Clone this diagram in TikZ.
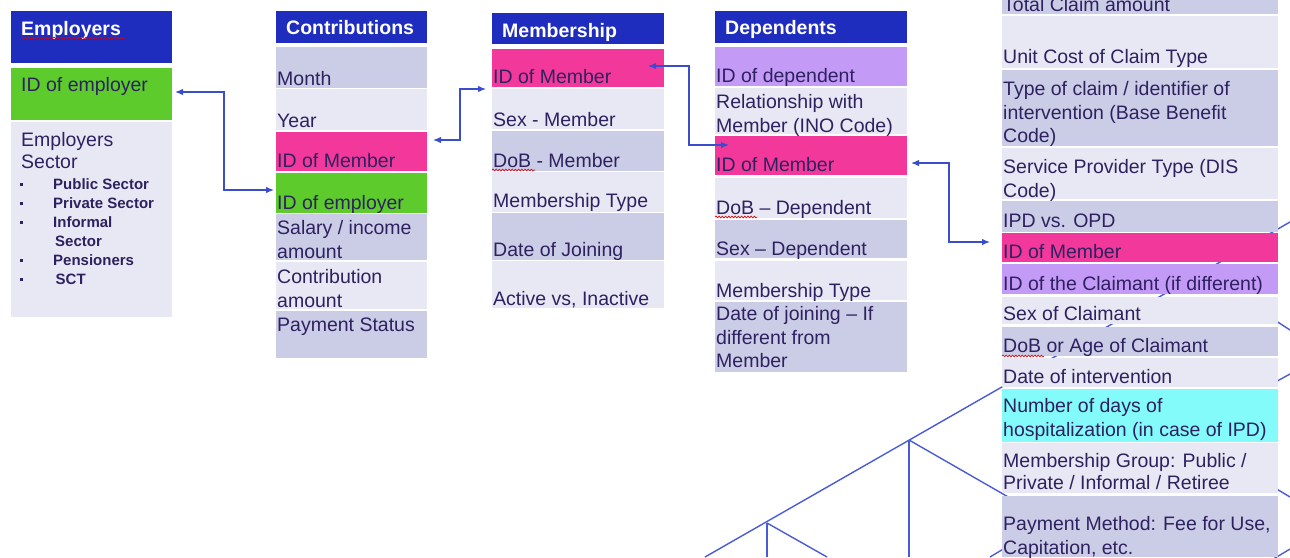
\documentclass[tikz,border=0pt]{standalone}
\usepackage{fontspec}
\setmainfont{Liberation Sans}
\usetikzlibrary{arrows.meta,decorations.pathmorphing}

\definecolor{hdr}{HTML}{1F2DBF}
\definecolor{band}{HTML}{CBCDE7}
\definecolor{plain}{HTML}{E8E8F4}
\definecolor{keypink}{HTML}{F2399B}
\definecolor{keygreen}{HTML}{5DCB2B}
\definecolor{keyviolet}{HTML}{C49AF7}
\definecolor{keycyan}{HTML}{82FBFA}
\definecolor{ink}{HTML}{2E2160}
\definecolor{wire}{HTML}{3A4DCD}
\definecolor{truss}{HTML}{4A5BD6}

\newcommand\rowfont{\fontsize{19.5}{23.5}\selectfont}
\newcommand\tabx{0}
\newcommand\tabw{100}
\newcommand\tabin{1}
\newcommand\bul{\makebox[33pt][l]{\rule[3.5pt]{2.8pt}{2.8pt}}}

\tikzset{
  rowbox/.style={anchor=north west,inner sep=0pt,outer sep=0pt,draw=none,minimum width=\tabw},
  rowtext/.style={anchor=north west,inner sep=0pt,align=left,text=ink,font=\rowfont,
    execute at begin node=\strut},
  headtext/.style={rowtext,text=white,font=\bfseries\rowfont},
  bullets/.style={anchor=north west,inner sep=0pt,align=left,text=ink,
    font=\bfseries\fontsize{15}{19}\selectfont,execute at begin node=\strut},
  link/.style={draw=wire,line width=1.3pt,{Latex[length=8pt,width=6.5pt]}-{Latex[length=8pt,width=6.5pt]}},
  spell/.style={draw=red!85!black,line width=0.6pt,decorate,
    decoration={snake,amplitude=0.9pt,segment length=3.2pt}},
  beam/.style={draw=truss,line width=1.4pt},
  post/.style={draw=truss,line width=2.8pt}
}

% one filled table row with its text, first baseline given
\newcommand\tabrow[6]{%
  \node[rowbox,fill=#2,minimum height={#4-#3}] (#1) at (\tabx,#3) {};
  \node[rowtext] at (\tabx+\tabin,#5-16.45) {#6};}
\newcommand\tabhead[5]{%
  \node[rowbox,fill=hdr,minimum height={#3-#2}] (#1) at (\tabx,#2) {};
  \node[headtext] at (\tabx+10,#4-16.45) {#5};}

\begin{document}
\begin{tikzpicture}[x=1pt,y=-1pt]
  \useasboundingbox (0,0) rectangle (1290,557);

  % frame lines running behind the claims table
  \draw[beam] (705,557) -- (1290,222);
  \draw[post] (767,523) -- (767,557);
  \draw[beam] (767,523) -- (827,557);
  \draw[post] (909,440) -- (909,557);
  \draw[beam] (909,440) -- (1010,498);
  \draw[beam] (990,557) -- (1010,545);
  \draw[beam] (1270,317) -- (1290,330);
  \draw[beam] (1270,385) -- (1290,374);
  \draw[beam] (1270,485) -- (1290,497);
  \draw[beam] (1270,561) -- (1290,549);

  % Employers
  \def\tabx{11}\def\tabw{161}\def\tabin{10}
  \tabhead{emphead}{11}{63}{35}{Employers}
  \tabrow{empid}{keygreen}{68}{120}{91}{ID of employer}
  \tabrow{empsector}{plain}{122}{317}{149}{Employers\\[-1.5pt]Sector}
  \node[bullets] (empsectors) at (20,192-13.3) {\bul Public Sector\\ \bul Private Sector\\
    \bul Informal\\ \hspace*{35pt}Sector\\ \bul Pensioners\\ \bul\,SCT};

  % Contributions
  \def\tabx{276}\def\tabw{151}\def\tabin{1}
  \tabhead{conhead}{11}{43}{34}{Contributions}
  \tabrow{conmonth}{band}{47}{88}{85}{Month}
  \tabrow{conyear}{plain}{89}{130}{127}{Year}
  \tabrow{conmem}{keypink}{132}{171}{167}{ID of Member}
  \tabrow{conemp}{keygreen}{173}{213}{209}{ID of employer}
  \tabrow{consalary}{band}{214}{260}{237}{Salary / income\\amount}
  \tabrow{conamount}{plain}{262}{309}{286}{Contribution\\amount}
  \tabrow{constatus}{band}{311}{358}{331}{Payment Status}

  % Membership
  \def\tabx{492}\def\tabw{172}
  \tabhead{memhead}{13}{44}{37}{Membership}
  \tabrow{memid}{keypink}{49}{87}{83}{ID of Member}
  \tabrow{memsex}{plain}{89}{129}{126}{Sex - Member}
  \tabrow{memdob}{band}{131}{171}{167}{DoB - Member}
  \tabrow{memtype}{plain}{172}{212}{207}{Membership Type}
  \tabrow{memjoin}{band}{213}{260}{256}{Date of Joining}
  \tabrow{memactive}{plain}{261}{308}{305}{Active vs, Inactive}

  % Dependents
  \def\tabx{715}\def\tabw{192}
  \tabhead{dephead}{11}{43}{34}{Dependents}
  \tabrow{depid}{keyviolet}{47}{86}{82}{ID of dependent}
  \tabrow{deprel}{plain}{88}{134}{111}{Relationship with\\Member (INO Code)}
  \tabrow{depmem}{keypink}{136}{175}{171}{ID of Member}
  \tabrow{depdob}{plain}{178}{218}{214}{DoB – Dependent}
  \tabrow{depsex}{band}{220}{258}{255}{Sex – Dependent}
  \tabrow{deptype}{plain}{261}{300}{297}{Membership Type}
  \tabrow{depjoin}{band}{302}{372}{323}{Date of joining – If\\different from\\Member}

  % Claims
  \def\tabx{1002}\def\tabw{276}
  \tabrow{clmtotal}{band}{0}{14}{11}{Total Claim amount}
  \tabrow{clmcost}{plain}{16}{68}{63}{Unit Cost of Claim Type}
  \tabrow{clmtype}{band}{70}{146}{98}{Type of claim / identifier of\\intervention (Base Benefit\\Code)}
  \tabrow{clmprov}{plain}{148}{199}{176}{Service Provider Type (DIS\\Code)}
  \tabrow{clmipd}{band}{201}{232}{227}{IPD vs. OPD}
  \tabrow{clmmem}{keypink}{233}{262}{258}{ID of Member}
  \tabrow{clmid}{keyviolet}{264}{294}{290}{ID of the Claimant (if different)}
  \tabrow{clmsex}{plain}{297}{324}{320}{Sex of Claimant}
  \tabrow{clmdob}{band}{327}{356}{352}{DoB or Age of Claimant}
  \tabrow{clmdate}{plain}{358}{387}{383}{Date of intervention}
  \tabrow{clmdays}{keycyan}{389}{442}{415}{Number of days of\\hospitalization (in case of IPD)}
  \tabrow{clmgroup}{plain}{443}{493}{470}{Membership Group: Public /\\[-2pt]Private / Informal / Retiree}
  \tabrow{clmpay}{band}{496}{557}{533}{Payment Method: Fee for Use,\\Capitation, etc.}

  % spelling marks
  \draw[spell] (21,38) -- (125,38);
  \draw[spell] (492,170) -- (535,170);
  \draw[spell] (715,217) -- (757,217);
  \draw[spell] (1002,356) -- (1044,356);

  % key links
  \draw[link] ([shift={(3,-2)}]empid.east) -- ++(49,0) |- ([shift={(-2,-3)}]conemp.west);
  \draw[link] ([shift={(6,-11.5)}]conmem.east) -- ++(27,0) |- ([shift={(-6,21)}]memid.west);
  \draw[link] ([shift={(-16,-2)}]memid.east) -- ++(41,0) |- ([shift={(14,-10.5)}]depmem.west);
  \draw[link] ([shift={(4,7.5)}]depmem.east) -- ++(38,0) |- ([shift={(-12,-5.5)}]clmmem.west);
\end{tikzpicture}
\end{document}
